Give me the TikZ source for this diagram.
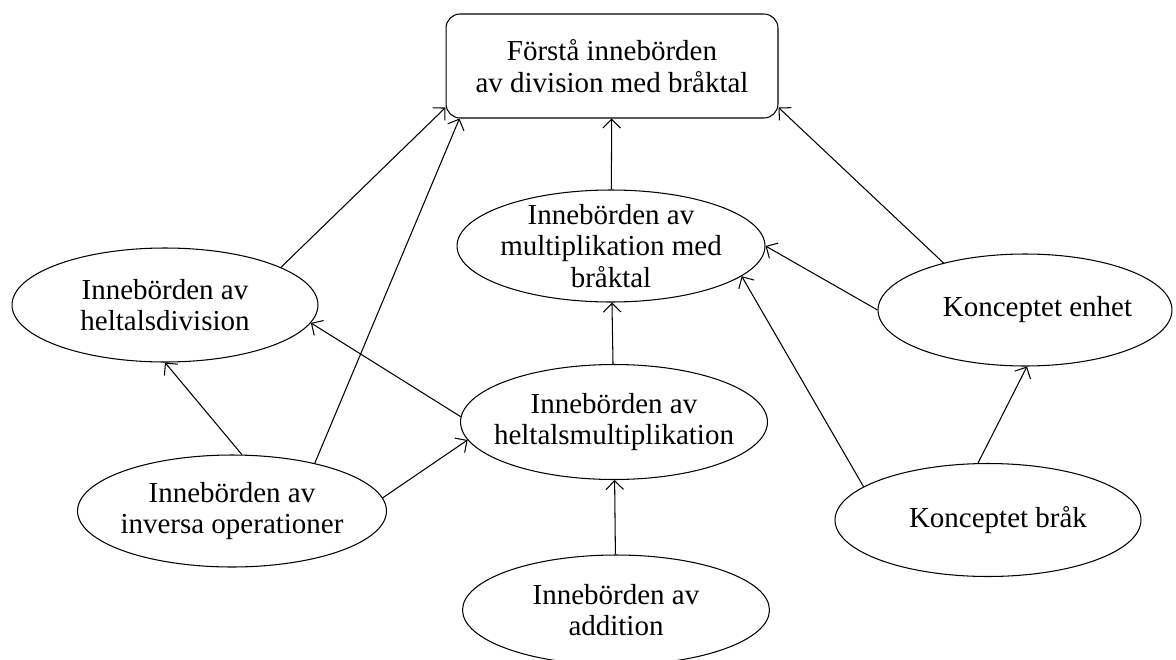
\documentclass[tikz,border=0pt]{standalone}
\usepackage{fontspec}
\setmainfont{Liberation Serif}
\usetikzlibrary{arrows.meta,shapes.geometric}

\begin{document}
\begin{tikzpicture}[x=0.02cm, y=-0.02cm,
  bubble/.style={draw, ellipse, line width=0.6pt, inner sep=0pt},
  txt/.style={align=center, font=\fontsize{16.5}{18}\selectfont},
  link/.style={-{Straight Barb[length=5pt,width=10pt]}, line width=0.6pt}]
  \useasboundingbox (0,0) rectangle (1176,659);
  \node[draw, rectangle, rounded corners=8pt, line width=0.6pt, minimum width=6.64cm, minimum height=2.08cm, txt] (goal) at (612,66) {Förstå innebörden\\av division med bråktal};
  \node[bubble, minimum width=6.16cm, minimum height=2.24cm, label={[txt]center:Innebörden av\\multiplikation med\\bråktal}] (multbr) at (611,246) {};
  \node[bubble, minimum width=6.12cm, minimum height=2.28cm, label={[txt]center:Innebörden av\\heltalsdivision}] (hdiv) at (165,305) {};
  \node[bubble, minimum width=6.14cm, minimum height=2.30cm, label={[txt]center:Innebörden av\\heltalsmultiplikation}] (hmul) at (614,422) {};
  \node[bubble, minimum width=6.18cm, minimum height=2.24cm, label={[txt]center:Innebörden av\\inversa operationer}] (inv) at (232,511) {};
  \node[bubble, minimum width=6.14cm, minimum height=2.20cm, label={[txt]center:Innebörden av\\addition}] (add) at (616,610) {};
  \node[bubble, minimum width=5.88cm, minimum height=2.24cm, label={[txt, xshift=0.25cm]center:Konceptet enhet}] (enhet) at (1025,310) {};
  \node[bubble, minimum width=6.12cm, minimum height=2.26cm, label={[txt, xshift=0.2cm]center:Konceptet bråk}] (brak) at (988,520) {};
  \draw[link] (hdiv.18) -- (goal.194);
  \draw[link] (inv.30) -- (goal.199);
  \draw[link] (multbr) -- (goal);
  \draw[link] (enhet.150) -- (goal.-14);
  \draw[link] (enhet.180) -- (multbr.0);
  \draw[link] (brak.165) -- (multbr.-13);
  \draw[link] (hmul) -- (multbr);
  \draw[link] (hmul.178) -- (hdiv.-7);
  \draw[link] (inv.80) -- (hdiv.-90);
  \draw[link] (inv.5) -- (hmul.187);
  \draw[link] (add) -- (hmul);
  \draw[link] (brak.100) -- (enhet.-88);
\end{tikzpicture}
\end{document}
